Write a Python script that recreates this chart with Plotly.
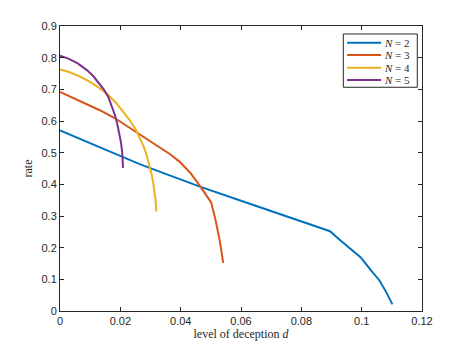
import plotly.graph_objects as go

# N = 2
d2 = [0, 0.01, 0.02, 0.0264, 0.033, 0.0398, 0.0466, 0.06, 0.07, 0.08, 0.0895, 0.0928, 0.0997, 0.1033, 0.1058, 0.108, 0.1102]
r2 = [0.570, 0.529, 0.489, 0.464, 0.440, 0.415, 0.392, 0.348, 0.316, 0.284, 0.252, 0.224, 0.169, 0.126, 0.098, 0.062, 0.021]
# N = 3
d3 = [0, 0.0066, 0.0132, 0.0181, 0.0253, 0.029, 0.033, 0.0365, 0.0397, 0.0433, 0.0466, 0.0501, 0.0515, 0.053, 0.0541]
r3 = [0.692, 0.664, 0.634, 0.6095, 0.565, 0.542, 0.518, 0.495, 0.471, 0.435, 0.392, 0.343, 0.29, 0.22, 0.152]
# N = 4
d4 = [0, 0.0032, 0.0065, 0.0098, 0.0132, 0.016, 0.0187, 0.021, 0.0231, 0.025, 0.0264, 0.0276, 0.0286,
      0.0295, 0.0303, 0.0309, 0.0314, 0.0317, 0.0319]
r4 = [0.763, 0.754, 0.741, 0.724, 0.703, 0.682, 0.656, 0.630, 0.603, 0.575, 0.548, 0.522, 0.496,
      0.467, 0.434, 0.405, 0.377, 0.350, 0.314]
# N = 5
d5 = [0, 0.003, 0.006, 0.009, 0.011, 0.013, 0.0145, 0.016, 0.0172, 0.0182, 0.019, 0.0197,
      0.0202, 0.0206, 0.0209]
r5 = [0.806, 0.796, 0.781, 0.760, 0.742, 0.720, 0.700, 0.676, 0.648, 0.619, 0.590, 0.560,
      0.533, 0.503, 0.452]

series = [("2", d2, r2, "#0072BD"), ("3", d3, r3, "#D95319"),
          ("4", d4, r4, "#EDB120"), ("5", d5, r5, "#7E2F8E")]

x_ticks = [0, 0.02, 0.04, 0.06, 0.08, 0.1, 0.12]
x_tick_labels = ["0", "0.02", "0.04", "0.06", "0.08", "0.1", "0.12"]
y_ticks = [0, 0.1, 0.2, 0.3, 0.4, 0.5, 0.6, 0.7, 0.8, 0.9]
y_tick_labels = ["0", "0.1", "0.2", "0.3", "0.4", "0.5", "0.6", "0.7", "0.8", "0.9"]

fig = go.Figure()
for n, d, r, c in series:
    fig.add_trace(go.Scatter(x=d, y=r, mode="lines", name=f"<i>N</i> = {n}",
                             line=dict(color=c, width=2), showlegend=False))

# Custom compact legend (MATLAB-style box)
leg_x0, leg_x1, leg_y0, leg_y1 = 0.7826, 0.987, 0.785, 0.972
fig.add_shape(type="rect", xref="paper", yref="paper", x0=leg_x0, x1=leg_x1,
              y0=leg_y0, y1=leg_y1, line=dict(color="#262626", width=1),
              fillcolor="white", layer="above")
entry_y = [0.9414, 0.898, 0.8537, 0.8105]
for (n, d, r, c), yy in zip(series, entry_y):
    fig.add_shape(type="line", xref="paper", yref="paper", x0=0.793, x1=0.887,
                  y0=yy, y1=yy, line=dict(color=c, width=2), layer="above")
    fig.add_annotation(xref="paper", yref="paper", x=0.890, y=yy, xanchor="left",
                       yanchor="middle", showarrow=False, text=f"<i>N</i> = {n}",
                       font=dict(family="Liberation Serif", size=11, color="#262626"))

axis_common = dict(showline=True, linecolor="#262626", linewidth=1, mirror="ticks",
                   ticks="inside", ticklen=4, tickcolor="#262626", showgrid=False,
                   zeroline=False, tickfont=dict(family="Liberation Sans", size=11, color="#262626"))

fig.update_layout(
    width=467, height=350,
    margin=dict(l=60, r=45, t=26, b=39),
    plot_bgcolor="white", paper_bgcolor="white",
    xaxis=dict(range=[0, 0.12], tickvals=x_ticks, ticktext=x_tick_labels,
               title=dict(text="level of deception <i>d</i>", standoff=0,
                          font=dict(family="Liberation Serif", size=12, color="#262626")),
               **axis_common),
    yaxis=dict(range=[0, 0.9], tickvals=y_ticks, ticktext=y_tick_labels,
               title=dict(text="rate", standoff=6,
                          font=dict(family="Liberation Serif", size=12, color="#262626")),
               **axis_common),
    showlegend=False,
)

fig.write_html("out.html", config={"displayModeBar": False},
               post_script="document.body.style.margin='0';")
